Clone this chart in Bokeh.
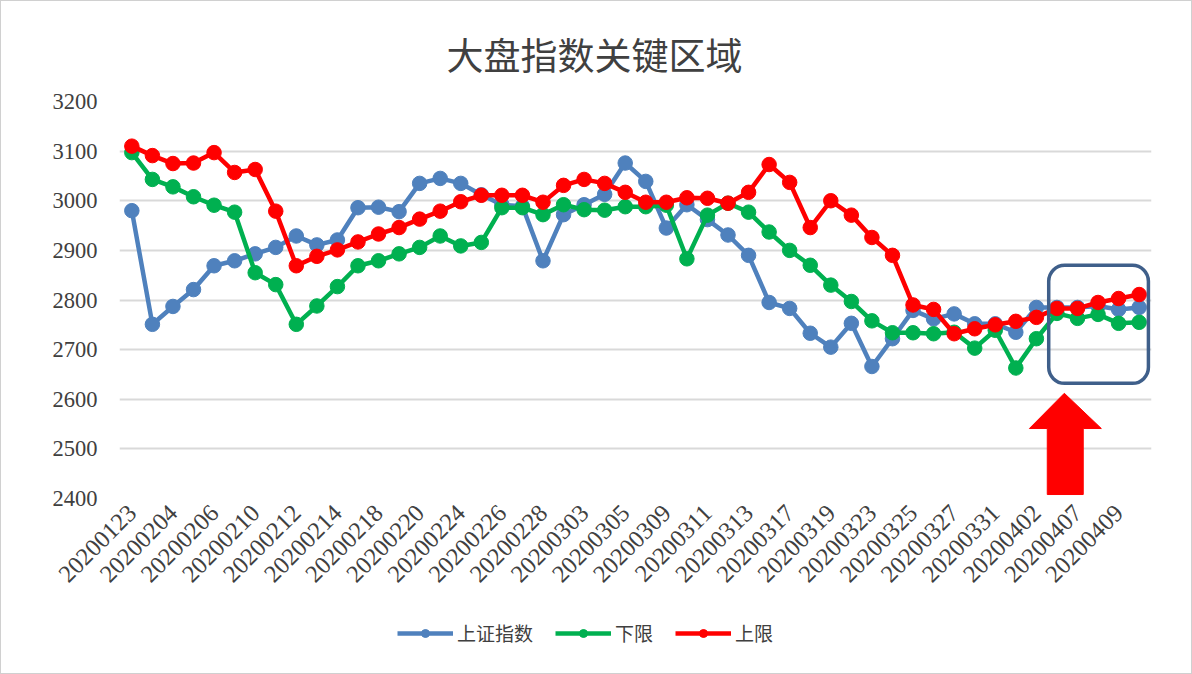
import math
from bokeh.plotting import figure
from bokeh.layouts import column
from bokeh.models import (FixedTicker, Legend, LegendItem, BoxAnnotation, ColumnDataSource)
from bokeh.embed import file_html
from bokeh.resources import INLINE

dates = ["20200123", "20200203", "20200204", "20200205", "20200206", "20200207",
         "20200210", "20200211", "20200212", "20200213", "20200214", "20200217",
         "20200218", "20200219", "20200220", "20200221", "20200224", "20200225",
         "20200226", "20200227", "20200228", "20200302", "20200303", "20200304",
         "20200305", "20200306", "20200309", "20200310", "20200311", "20200312",
         "20200313", "20200316", "20200317", "20200318", "20200319", "20200320",
         "20200323", "20200324", "20200325", "20200326", "20200327", "20200330",
         "20200331", "20200401", "20200402", "20200403", "20200407", "20200408",
         "20200409", "20200410"]

shindex = [2980, 2751, 2787, 2821, 2869, 2879, 2893, 2906, 2929, 2911,
           2921, 2986, 2987, 2978, 3035, 3045, 3035, 3012, 2992, 2989,
           2879, 2972, 2992, 3013, 3076, 3039, 2945, 2992, 2962, 2931,
           2890, 2795, 2783, 2733, 2705, 2753, 2666, 2722, 2779, 2762,
           2772, 2752, 2752, 2735, 2785, 2785, 2785, 2788, 2781, 2785]

lower = [3097, 3043, 3028, 3008, 2991, 2977, 2855, 2831, 2751, 2788,
         2827, 2869, 2879, 2893, 2906, 2929, 2909, 2916, 2986, 2986,
         2972, 2992, 2982, 2981, 2988, 2988, 2991, 2883, 2971, 2995,
         2977, 2937, 2900, 2870, 2830, 2797, 2758, 2734, 2734, 2732,
         2735, 2703, 2739, 2663, 2722, 2773, 2763, 2771, 2753, 2755]

upper = [3110, 3091, 3075, 3076, 3097, 3057, 3063, 2979, 2869, 2888,
         2901, 2917, 2933, 2946, 2963, 2979, 2998, 3011, 3011, 3011,
         2997, 3031, 3043, 3035, 3017, 2997, 2997, 3006, 3005, 2995,
         3017, 3073, 3037, 2946, 3000, 2971, 2926, 2890, 2790, 2781,
         2732, 2742, 2750, 2757, 2765, 2783, 2783, 2795, 2803, 2811]

series_names = ["上证指数", "下限", "上限"]
series_colors = ["#4F81BD", "#00B050", "#FF0000"]

idx = list(range(len(dates)))
sources = [ColumnDataSource(dict(x=idx, y=ys)) for ys in (shindex, lower, upper)]

p = figure(width=1190, height=600, output_backend="svg", toolbar_location=None,
           x_range=(-0.6, len(dates) - 0.4), y_range=(2400, 3200),
           min_border_left=118, min_border_right=40, min_border_top=100,
           min_border_bottom=103)

p.title.text = "大盘指数关键区域"
p.title.align = "left"
p.title.offset = 327
p.title.text_font = "Noto Sans CJK SC"
p.title.text_font_size = "37px"
p.title.text_font_style = "normal"
p.title.text_color = "#404040"
p.title.standoff = 42

p.outline_line_color = None
p.background_fill_color = "white"
p.border_fill_color = "white"

p.xgrid.grid_line_color = None
p.ygrid.grid_line_color = "#D9D9D9"
p.ygrid.grid_line_width = 2
p.yaxis.ticker = FixedTicker(ticks=list(range(2400, 3201, 100)))
p.xaxis.ticker = FixedTicker(ticks=idx[::2])
p.xaxis.major_label_overrides = {i: dates[i] for i in idx[::2]}
p.xaxis.major_label_orientation = math.pi / 4

for ax in (p.xaxis[0], p.yaxis[0]):
    ax.axis_line_color = None
    ax.major_tick_line_color = None
    ax.minor_tick_line_color = None
    ax.major_label_text_font = "Liberation Serif"
    ax.major_label_text_color = "#404040"
p.yaxis.major_label_text_font_size = "22.5px"
p.xaxis.major_label_text_font_size = "24.5px"
p.yaxis.major_label_standoff = 16
p.xaxis.major_label_standoff = 4

for src, col in zip(sources, series_colors):
    p.line("x", "y", source=src, line_color=col, line_width=4.5)
    p.scatter("x", "y", source=src, size=14.5, fill_color=col, line_color=col)

# highlight box and arrow (annotation decoration)
box = BoxAnnotation(left=44.6, right=49.45, bottom=2632, top=2870,
                    fill_alpha=0, line_color="#3F5F8A", line_alpha=1.0,
                    line_width=3.5, border_radius=16)
p.add_layout(box)
arrow_x = [45.36, 47.16, 46.28, 46.28, 44.53, 44.53, 43.66]
arrow_y = [2612, 2541, 2541, 2408, 2408, 2541, 2541]
p.patch(arrow_x, arrow_y, fill_color="#FF0000", line_color="#FF0000")

# legend strip below the chart (series drawn out of view; only the legend shows)
pl = figure(width=1190, height=72, output_backend="svg", toolbar_location=None,
            x_range=(-100, -99), y_range=(-100, -99), min_border=0,
            x_axis_type=None, y_axis_type=None)
pl.grid.visible = False
pl.outline_line_color = None
pl.background_fill_color = "white"
pl.border_fill_color = "white"
items = []
for name, src, col in zip(series_names, sources, series_colors):
    ln = pl.line("x", "y", source=src, line_color=col, line_width=4.5)
    sc = pl.scatter("x", "y", source=src, size=11, fill_color=col, line_color=col)
    items.append(LegendItem(label=name, renderers=[ln, sc]))
legend = Legend(items=items, orientation="horizontal", location=(278, 27),
                label_text_font="Noto Sans CJK SC", label_text_font_size="19px",
                label_text_color="#404040", glyph_width=56, glyph_height=20,
                spacing=22, label_standoff=4, border_line_color=None,
                background_fill_alpha=0)
pl.add_layout(legend, "center")

layout = column(p, pl, spacing=0)
layout.styles = {"border": "1px solid #D0D0D0"}

open("out.html", "w").write(file_html(layout, INLINE))
